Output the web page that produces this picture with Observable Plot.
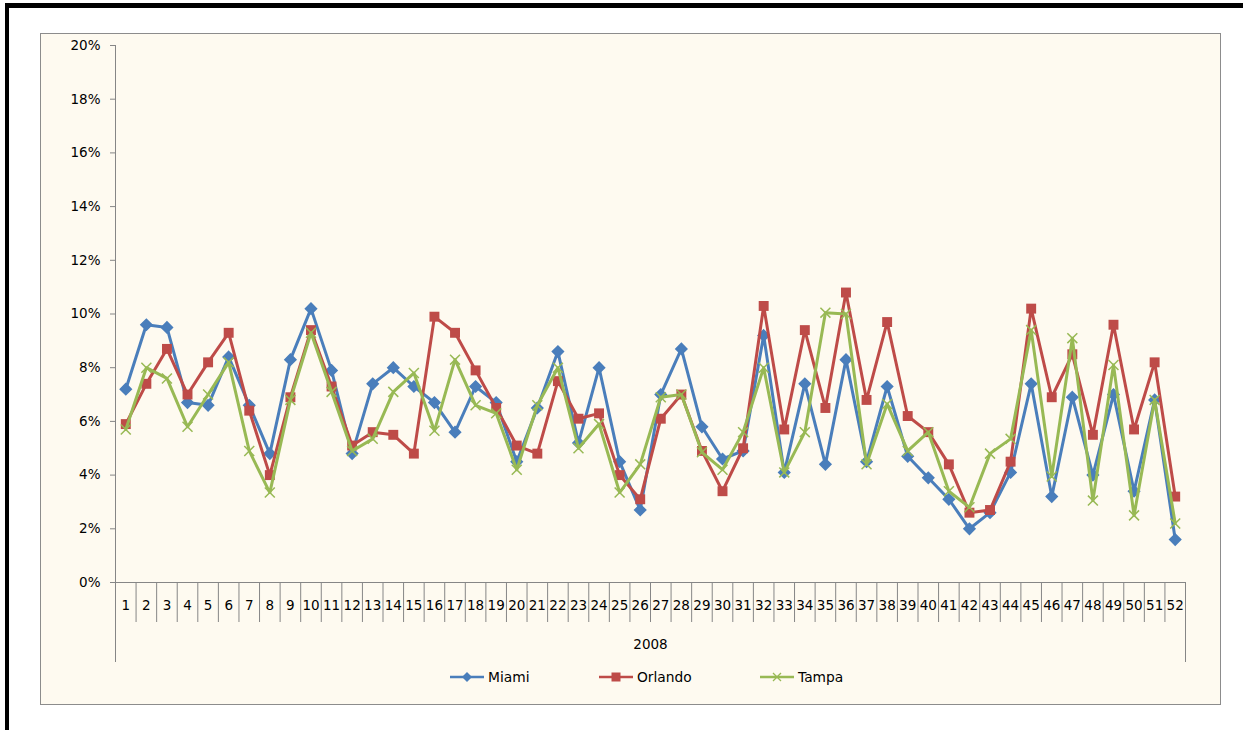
<!DOCTYPE html>
<html><head><meta charset="utf-8">
<script src="https://cdn.jsdelivr.net/npm/d3@7"></script>
<script src="https://cdn.jsdelivr.net/npm/@observablehq/plot@0.6"></script>
<style>
body{margin:0;background:#fff;width:1243px;height:730px;overflow:hidden;position:relative;font-family:"DejaVu Sans",sans-serif;}
#frameTop{position:absolute;left:5px;top:3px;width:1238px;height:5px;background:#000}
#frameLeft{position:absolute;left:5px;top:3px;width:4px;height:727px;background:#000}
#box{position:absolute;left:40px;top:33px;width:1179px;height:670px;background:#FEFAF0;border:1px solid #8c8c8c}
#chart{position:absolute;left:40px;top:33px}
#chart svg text{font-size:13.5px}
.leg{position:absolute;top:668px;height:18px;display:flex;align-items:center;font-size:13.8px;color:#000}
.leg svg{margin-right:4px}
</style></head>
<body>
<div id="frameTop"></div><div id="frameLeft"></div>
<div id="box"></div>
<div id="chart"></div>
<div id="legend"></div>
<script>
const weeks = d3.range(1, 53);
const seriesNames = ["Miami", "Orlando", "Tampa"];
const miami = [7.2,9.6,9.5,6.7,6.6,8.4,6.6,4.8,8.3,10.2,7.9,4.8,7.4,8.0,7.3,6.7,5.6,7.3,6.7,4.5,6.5,8.6,5.2,8.0,4.5,2.7,7.0,8.7,5.8,4.6,4.9,9.2,4.1,7.4,4.4,8.3,4.5,7.3,4.7,3.9,3.1,2.0,2.6,4.1,7.4,3.2,6.9,4.0,7.0,3.4,6.8,1.6];
const orlando = [5.9,7.4,8.7,7.0,8.2,9.3,6.4,4.0,6.9,9.4,7.3,5.1,5.6,5.5,4.8,9.9,9.3,7.9,6.5,5.1,4.8,7.5,6.1,6.3,4.0,3.1,6.1,7.0,4.9,3.4,5.0,10.3,5.7,9.4,6.5,10.8,6.8,9.7,6.2,5.6,4.4,2.6,2.7,4.5,10.2,6.9,8.5,5.5,9.6,5.7,8.2,3.2];
const tampa = [5.7,8.0,7.6,5.8,7.0,8.2,4.9,3.35,6.8,9.3,7.1,4.9,5.35,7.1,7.8,5.65,8.3,6.6,6.3,4.2,6.6,8.0,5.0,5.9,3.35,4.4,6.9,7.0,4.85,4.2,5.6,8.0,4.1,5.6,10.05,10.0,4.4,6.65,4.9,5.6,3.4,2.8,4.8,5.35,9.4,3.95,9.1,3.05,8.1,2.5,6.8,2.2];
const yTicks = d3.range(0, 21, 2);
const groupLabel = "2008";

const colors = {Miami: "#4A7EBB", Orlando: "#BE4B48", Tampa: "#98B954"};
const rows = (vals) => weeks.map((w, i) => ({week: w, value: vals[i]}));
const boundaries = d3.range(0, 53).map(i => i + 0.5);

const chart = Plot.plot({
  width: 1180, height: 635,
  marginLeft: 75, marginRight: 35, marginTop: 12, marginBottom: 86,
  style: {background: "transparent", fontFamily: "DejaVu Sans", fontSize: "13.5px", color: "#000", overflow: "visible"},
  x: {domain: [0.5, 52.5], axis: null},
  y: {domain: [0, 20], axis: null},
  marks: [
    Plot.axisY(yTicks, {tickSize: 5, tickPadding: 10, tickFormat: d => d + "%", stroke: "#868686", fill: "#000", label: null}),
    Plot.ruleX([0.5], {stroke: "#868686"}),
    Plot.ruleY([0], {stroke: "#868686"}),
    Plot.axisX(boundaries, {tickSize: 40, tickFormat: () => "", stroke: "#868686", label: null}),
    Plot.axisX([0.5, 52.5], {tickSize: 80, tickFormat: () => "", stroke: "#868686", label: null}),
    Plot.axisX(weeks, {tickSize: 0, tickPadding: 18, fill: "#000", label: null}),
    Plot.text([groupLabel], {text: d => d, frameAnchor: "bottom", dy: 66, fill: "#000"}),
    Plot.line(rows(miami), {x: "week", y: "value", stroke: colors.Miami, strokeWidth: 3}),
    Plot.dot(rows(miami), {x: "week", y: "value", symbol: "diamond2", fill: colors.Miami, stroke: colors.Miami, r: 5}),
    Plot.line(rows(orlando), {x: "week", y: "value", stroke: colors.Orlando, strokeWidth: 3}),
    Plot.dot(rows(orlando), {x: "week", y: "value", symbol: "square", fill: colors.Orlando, r: 5.6}),
    Plot.line(rows(tampa), {x: "week", y: "value", stroke: colors.Tampa, strokeWidth: 3}),
    Plot.dot(rows(tampa), {x: "week", y: "value", symbol: "times", stroke: colors.Tampa, strokeWidth: 1.5, r: 4.6})
  ]
});
document.getElementById("chart").appendChild(chart);

// legend
const legendX = {Miami: 450, Orlando: 599, Tampa: 760};
const symbolPaths = {
  Miami: `<path d="M17,1L22,6L17,11L12,6Z" fill="${colors.Miami}"/>`,
  Orlando: `<rect x="12.5" y="1.5" width="9" height="9" fill="${colors.Orlando}"/>`,
  Tampa: `<path d="M13,2L21,10M21,2L13,10" stroke="${colors.Tampa}" stroke-width="1.3"/>`
};
const leg = document.getElementById("legend");
for (const name of seriesNames) {
  const d = document.createElement("div");
  d.className = "leg";
  d.style.left = legendX[name] + "px";
  d.innerHTML = `<svg width="34" height="12"><line x1="0" x2="34" y1="6" y2="6" stroke="${colors[name]}" stroke-width="2.5"/>${symbolPaths[name]}</svg><span>${name}</span>`;
  leg.appendChild(d);
}
</script>
</body></html>
